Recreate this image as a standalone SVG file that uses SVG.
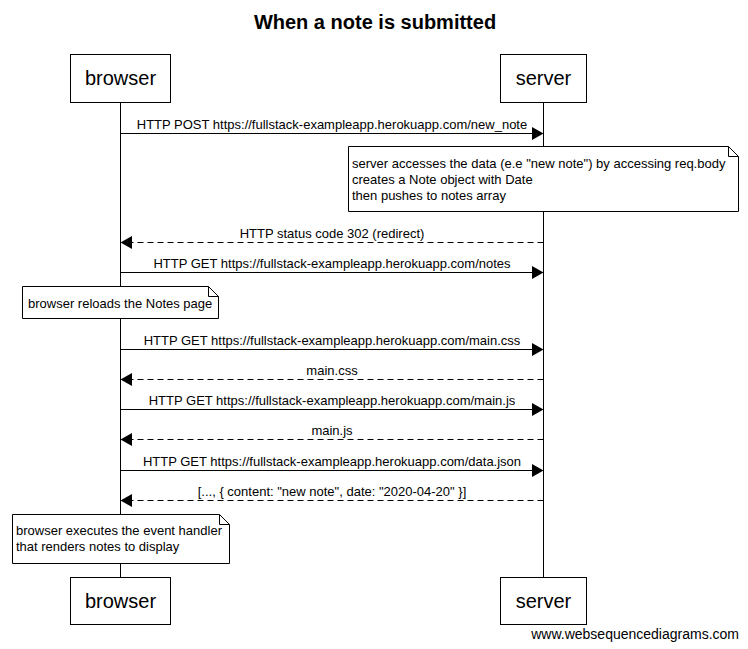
<svg xmlns="http://www.w3.org/2000/svg" width="748" height="649" viewBox="0 0 748 649">
<defs>
<style>
text{font-family:"Liberation Sans",Arial,sans-serif;fill:#000}
.t{font-size:20px;font-weight:bold;text-anchor:middle}
.p{font-size:20px;text-anchor:middle}
.m{font-size:13px;text-anchor:middle}
.n{font-size:13px}
.box{fill:#fff;stroke:#000;stroke-width:1}
.life{stroke:#000;stroke-width:1}
.sol{stroke:#000;stroke-width:1;fill:none}
.dash{stroke:#000;stroke-width:1;fill:none;stroke-dasharray:6,4}
.note{fill:#fff;stroke:#000;stroke-width:1}
</style>
</defs>
<rect width="748" height="649" fill="#fff"/>
<text class="t" x="375" y="29">When a note is submitted</text>
<g id="lifelines">
<line class="life" x1="120.5" y1="103" x2="120.5" y2="577"/>
<line class="life" x1="543.5" y1="103" x2="543.5" y2="577"/>
</g>
<g id="browser">
<rect class="box" x="70.5" y="54.5" width="100" height="48"/>
<text class="p" x="120.5" y="85">browser</text>
<rect class="box" x="70.5" y="577.5" width="100" height="47"/>
<text class="p" x="120.5" y="608">browser</text>
</g>
<g id="server">
<rect class="box" x="500.5" y="54.5" width="86" height="48"/>
<text class="p" x="543.5" y="85">server</text>
<rect class="box" x="500.5" y="577.5" width="86" height="47"/>
<text class="p" x="543.5" y="608">server</text>
</g>
<g id="connectors">
<line class="sol" x1="120.5" y1="133.5" x2="533" y2="133.5"/>
<path d="M543.5 133.5 L532 127 L532 140 Z"/>
<text class="m" x="332" y="129">HTTP POST https://fullstack-exampleapp.herokuapp.com/new_note</text>

<line class="dash" x1="543.5" y1="242.5" x2="131" y2="242.5"/>
<path d="M120.5 242.5 L132 236 L132 249 Z"/>
<text class="m" x="332" y="238">HTTP status code 302 (redirect)</text>

<line class="sol" x1="120.5" y1="272.5" x2="533" y2="272.5"/>
<path d="M543.5 272.5 L532 266 L532 279 Z"/>
<text class="m" x="332" y="268">HTTP GET https://fullstack-exampleapp.herokuapp.com/notes</text>

<line class="sol" x1="120.5" y1="349.5" x2="533" y2="349.5"/>
<path d="M543.5 349.5 L532 343 L532 356 Z"/>
<text class="m" x="332" y="345">HTTP GET https://fullstack-exampleapp.herokuapp.com/main.css</text>

<line class="dash" x1="543.5" y1="379.5" x2="131" y2="379.5"/>
<path d="M120.5 379.5 L132 373 L132 386 Z"/>
<text class="m" x="332" y="375">main.css</text>

<line class="sol" x1="120.5" y1="409.5" x2="533" y2="409.5"/>
<path d="M543.5 409.5 L532 403 L532 416 Z"/>
<text class="m" x="332" y="405">HTTP GET https://fullstack-exampleapp.herokuapp.com/main.js</text>

<line class="dash" x1="543.5" y1="439.5" x2="131" y2="439.5"/>
<path d="M120.5 439.5 L132 433 L132 446 Z"/>
<text class="m" x="332" y="435">main.js</text>

<line class="sol" x1="120.5" y1="470.5" x2="533" y2="470.5"/>
<path d="M543.5 470.5 L532 464 L532 477 Z"/>
<text class="m" x="332" y="466">HTTP GET https://fullstack-exampleapp.herokuapp.com/data.json</text>

<line class="dash" x1="543.5" y1="500.5" x2="131" y2="500.5"/>
<path d="M120.5 500.5 L132 494 L132 507 Z"/>
<text class="m" x="332" y="496">[..., { content: "new note", date: "2020-04-20" }]</text>
</g>
<g id="note1">
<path class="note" d="M348.5 146.5 H728.5 L738.5 156.5 V211.5 H348.5 Z"/>
<path class="sol" d="M728.5 146.5 V156.5 H738.5"/>
<text class="n" x="352" y="168">server accesses the data (e.e "new note") by accessing req.body</text>
<text class="n" x="352" y="184">creates a Note object with Date</text>
<text class="n" x="352" y="200">then pushes to notes array</text>
</g>
<g id="note2">
<path class="note" d="M22.5 286.5 H208.5 L218.5 296.5 V318.5 H22.5 Z"/>
<path class="sol" d="M208.5 286.5 V296.5 H218.5"/>
<text class="n" x="28" y="308">browser reloads the Notes page</text>
</g>
<g id="note3">
<path class="note" d="M12.5 514.5 H219.5 L229.5 524.5 V563.5 H12.5 Z"/>
<path class="sol" d="M219.5 514.5 V524.5 H229.5"/>
<text class="n" x="16" y="535">browser executes the event handler</text>
<text class="n" x="16" y="551">that renders notes to display</text>
</g>
<text class="n" x="739" y="639" text-anchor="end" style="font-size:14px">www.websequencediagrams.com</text>
</svg>
